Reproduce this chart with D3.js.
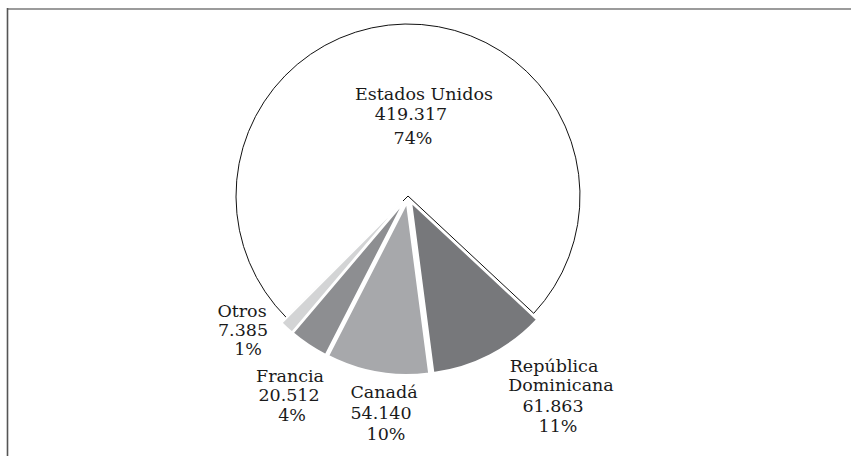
<!DOCTYPE html>
<html>
<head>
<meta charset="utf-8">
<script src="https://cdn.jsdelivr.net/npm/d3@7"></script>
<style>
  html, body { margin: 0; padding: 0; background: #fff; }
  svg { display: block; }
  text { font-family: "DejaVu Serif", serif; font-size: 17.5px; fill: #1a1a1a; }
</style>
</head>
<body>
<svg id="chart" width="851" height="456"></svg>
<script>
// Destinos: nombre, cantidad y porcentaje
const countries = ["Estados Unidos", "República Dominicana", "Canadá", "Francia", "Otros"];
const amounts = [419317, 61863, 54140, 20512, 7385];
const amountLabels = ["419.317", "61.863", "54.140", "20.512", "7.385"];
const percentLabels = ["74%", "11%", "10%", "4%", "1%"];
const fills = ["#ffffff", "#77787b", "#a7a8ab", "#8d8e91", "#d3d4d5"];

const width = 851, height = 456;
const cx = 408, cy = 196, radius = 172;
const explode = 7;

const svg = d3.select("#chart");

// frame lines along top and left
svg.append("line").attr("x1", 7).attr("x2", width).attr("y1", 9).attr("y2", 9)
  .attr("stroke", "#7a7a7a").attr("stroke-width", 1.6);
svg.append("line").attr("x1", 7.5).attr("x2", 7.5).attr("y1", 8).attr("y2", height)
  .attr("stroke", "#555").attr("stroke-width", 1.6);

const data = countries.map((c, i) => ({
  country: c, value: amounts[i], amount: amountLabels[i], pct: percentLabels[i], fill: fills[i], idx: i
}));

const pie = d3.pie()
  .value(d => d.value)
  .sort(null)
  .startAngle(-3 * Math.PI / 4)
  .endAngle(5 * Math.PI / 4);

const arc = d3.arc().innerRadius(0).outerRadius(radius);
const arcs = pie(data);

const g = svg.append("g").attr("transform", `translate(${cx},${cy})`);

g.selectAll("path.slice")
  .data(arcs)
  .join("path")
  .attr("class", "slice")
  .attr("d", arc)
  .attr("fill", d => d.data.fill)
  .attr("stroke", d => d.data.idx === 0 ? "#111" : "#fff")
  .attr("stroke-width", d => d.data.idx === 0 ? 1 : 1.8)
  .attr("stroke-linejoin", "miter")
  .attr("transform", d => {
    if (d.data.idx === 0) return null;
    const a = (d.startAngle + d.endAngle) / 2;
    return `translate(${explode * Math.sin(a)},${-explode * Math.cos(a)})`;
  });

// label placement relative to the pie centre: [dx, baseline dy] per line
const labelLayout = {
  "Estados Unidos": { lines: ["name", "amount", "pct"], pos: [[16, -96], [3, -76], [5, -52]] },
  "República Dominicana": { lines: ["República", "Dominicana", "amount", "pct"], pos: [[146, 176], [153, 195], [145, 216], [150, 236]] },
  "Canadá": { lines: ["name", "amount", "pct"], pos: [[-24, 202], [-27, 223], [-22, 244]] },
  "Francia": { lines: ["name", "amount", "pct"], pos: [[-118, 186], [-119, 205], [-116, 225]] },
  "Otros": { lines: ["name", "amount", "pct"], pos: [[-166, 121], [-165, 140], [-160, 159]] }
};

data.forEach(d => {
  const lay = labelLayout[d.country];
  lay.lines.forEach((ln, j) => {
    let txt = ln;
    if (ln === "name") txt = d.country;
    else if (ln === "amount") txt = d.amount;
    else if (ln === "pct") txt = d.pct;
    g.append("text")
      .attr("x", lay.pos[j][0])
      .attr("y", lay.pos[j][1])
      .attr("text-anchor", "middle")
      .text(txt);
  });
});
</script>
</body>
</html>
